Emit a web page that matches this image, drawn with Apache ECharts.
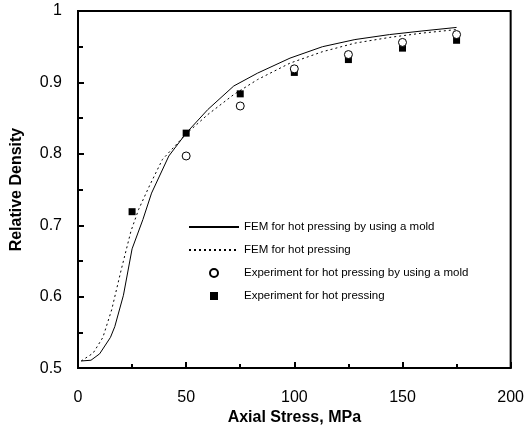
<!DOCTYPE html>
<html><head><meta charset="utf-8">
<script src="https://cdn.jsdelivr.net/npm/echarts@6/dist/echarts.min.js"></script>
<style>html,body{margin:0;padding:0;background:#fff}#c{width:527px;height:431px}</style>
</head><body><div id="c"></div>
<script>
const seriesNames = [
  'FEM for hot pressing by using a mold',
  'FEM for hot pressing',
  'Experiment for hot pressing by using a mold',
  'Experiment for hot pressing'
];
const femMold = [[1.5,0.510],[6,0.511],[10,0.520],[15,0.543],[17,0.558],[21,0.602],[25,0.667],[30,0.708],[34,0.745],[42,0.797],[50,0.829],[60,0.862],[72,0.895],[83,0.913],[98,0.934],[113,0.950],[128,0.960],[144,0.967],[159,0.972],[175,0.977]];
const femHot = [[1.5,0.510],[7,0.521],[11.5,0.543],[15.6,0.582],[20,0.638],[24.5,0.692],[28,0.722],[33,0.755],[39,0.792],[50,0.828],[60,0.855],[72,0.883],[83,0.904],[98,0.927],[113,0.943],[128,0.955],[144,0.963],[159,0.969],[175,0.974]];
const expStress = [25, 50, 75, 100, 125, 150, 175];
const expMold = [null, 0.797, 0.867, 0.919, 0.939, 0.956, 0.967];
const expHot = [0.719, 0.829, 0.884, 0.914, 0.932, 0.948, 0.959];
const xTicks = [0, 50, 100, 150, 200];
const yTicks = [0.5, 0.6, 0.7, 0.8, 0.9, 1];

const pairs = (xs, ys) => xs.map((x, i) => [x, ys[i]]).filter(p => p[1] != null);
const font = 'Liberation Sans, Arial, sans-serif';
const hidden = {opacity: 0, borderWidth: 0};

const chart = echarts.init(document.getElementById('c'), null, {renderer: 'canvas'});
chart.setOption({
  animation: false,
  backgroundColor: '#fff',
  grid: {left: 78, right: 10, top: 11, bottom: 62, show: true, borderColor: '#000', borderWidth: 2, containLabel: false},
  legend: {
    orient: 'vertical', left: 188, top: 220, padding: 0,
    itemWidth: 50, itemHeight: 8, itemGap: 9,
    data: [
      {name: seriesNames[0], itemStyle: hidden},
      {name: seriesNames[1], itemStyle: hidden},
      {name: seriesNames[2], icon: 'circle'},
      {name: seriesNames[3], icon: 'path://M0,0H10V10H0Z'}
    ],
    textStyle: {fontFamily: font, fontSize: 11.5, color: '#000', lineHeight: 14},
    selectedMode: false
  },
  xAxis: {
    type: 'value', min: xTicks[0], max: xTicks[xTicks.length - 1], interval: 50,
    name: 'Axial Stress, MPa', nameLocation: 'middle', nameGap: 41,
    nameTextStyle: {fontFamily: font, fontSize: 16, fontWeight: 'bold', color: '#000', verticalAlign: 'middle'},
    axisLine: {show: true, lineStyle: {color: '#000', width: 2}},
    axisTick: {show: true, inside: true, length: 6, lineStyle: {color: '#000', width: 2}},
    minorTick: {show: true, splitNumber: 2, length: 4, lineStyle: {color: '#000', width: 2}},
    axisLabel: {fontFamily: font, fontSize: 16, color: '#000', margin: 21},
    splitLine: {show: false}
  },
  yAxis: {
    type: 'value', min: yTicks[0], max: yTicks[yTicks.length - 1], interval: 0.1,
    name: 'Relative Density', nameLocation: 'middle', nameGap: 61,
    nameTextStyle: {fontFamily: font, fontSize: 16, fontWeight: 'bold', color: '#000', verticalAlign: 'middle'},
    axisLine: {show: true, lineStyle: {color: '#000', width: 2}},
    axisTick: {show: true, inside: true, length: 6, lineStyle: {color: '#000', width: 2}},
    minorTick: {show: true, splitNumber: 2, length: 5, lineStyle: {color: '#000', width: 2}},
    axisLabel: {fontFamily: font, fontSize: 16, color: '#000', margin: 16},
    splitLine: {show: false}
  },
  series: [
    {name: seriesNames[0], type: 'line', data: femMold, symbol: 'none', smooth: false,
     lineStyle: {color: '#000', width: 1}, itemStyle: {color: '#000'}, z: 2},
    {name: seriesNames[1], type: 'line', data: femHot, symbol: 'none', smooth: false,
     lineStyle: {color: '#000', width: 1, type: [2, 3]}, itemStyle: {color: '#000'}, z: 2},
    {name: seriesNames[2], type: 'scatter', data: pairs(expStress, expMold), symbol: 'circle', symbolSize: 8,
     itemStyle: {color: '#fff', borderColor: '#000', borderWidth: 1, opacity: 1}, z: 4},
    {name: seriesNames[3], type: 'scatter', data: pairs(expStress, expHot), symbol: 'rect', symbolSize: 7,
     itemStyle: {color: '#000', opacity: 1}, z: 3}
  ]
});
</script></body></html>
